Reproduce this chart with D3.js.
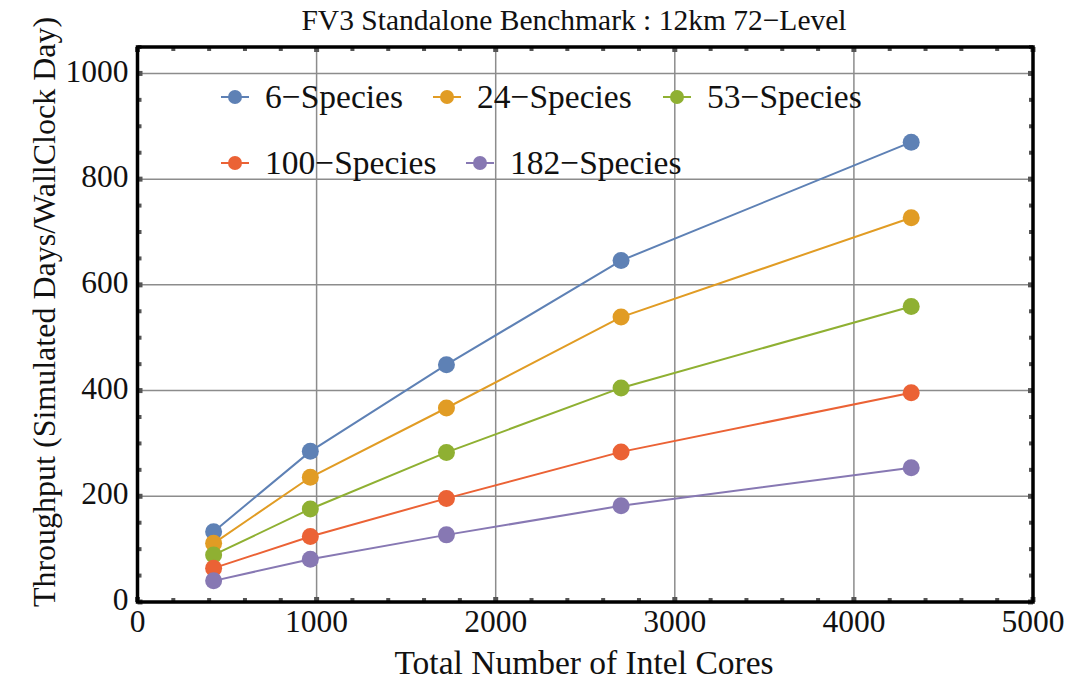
<!DOCTYPE html>
<html>
<head>
<meta charset="utf-8">
<title>FV3 Standalone Benchmark</title>
<style type="text/css">
body{ margin: 0; background: #fff; }
text{ font-family: "Liberation Serif", "Times New Roman", serif; fill: #111; }
.grid line{ stroke: #8c8c8c; stroke-width: 1.5; }
.series path{ fill: none; stroke-width: 2; }
</style>
<script src="https://cdn.jsdelivr.net/npm/d3@7"></script>
</head>
<body>
<script>
// values
var cores = [425, 965, 1725, 2700, 4320];
var seriesNames = ["6\u2212Species", "24\u2212Species", "53\u2212Species", "100\u2212Species", "182\u2212Species"];
var seriesColors = ["#5e81b5", "#e19c24", "#8fb032", "#eb6235", "#8778b3"];
var species6 = [133, 285, 449, 646, 870];
var species24 = [111, 236, 367, 539, 727];
var species53 = [89, 176, 283, 405, 559];
var species100 = [64, 124, 196, 284, 396];
var species182 = [40, 81, 127, 182, 254];
var xTicks = [0, 1000, 2000, 3000, 4000, 5000];
var yTicks = [0, 200, 400, 600, 800, 1000];

var allSeries = [species6, species24, species53, species100, species182];

const width = 1091, height = 680,
    margin = {top: 47, right: 58, bottom: 78, left: 137.5},
    contentWidth = width - margin.left - margin.right,
    contentHeight = height - margin.top - margin.bottom;

const svg = d3.select("body").append("svg").attr("width", width).attr("height", height);
const xScale = d3.scaleLinear().domain([0, 5000]).range([0, contentWidth]);
const yScale = d3.scaleLinear().domain([0, 1050]).range([contentHeight, 0]);
const content = svg.append("g").attr("transform", `translate(${margin.left}, ${margin.top})`);

// grid lines at the major ticks
const grid = content.append("g").attr("class", "grid");
grid.selectAll(".gx").data(xTicks.slice(1, -1)).enter().append("line")
    .attr("x1", d => xScale(d)).attr("x2", d => xScale(d))
    .attr("y1", 0).attr("y2", contentHeight);
grid.selectAll(".gy").data(yTicks.slice(1)).enter().append("line")
    .attr("y1", d => yScale(d)).attr("y2", d => yScale(d))
    .attr("x1", 0).attr("x2", contentWidth);

// little square ticks on the inside of all four sides
const xMinor = d3.range(0, 5001, 200), yMinor = d3.range(0, 1051, 50);
const tickG = content.append("g").attr("fill", "#555");
xMinor.forEach(function(v) {
    var major = v % 1000 == 0, s = major ? 5 : 4;
    tickG.append("rect").attr("x", xScale(v) - s / 2).attr("y", contentHeight - s).attr("width", s).attr("height", s);
    tickG.append("rect").attr("x", xScale(v) - s / 2).attr("y", 0).attr("width", s).attr("height", s);
});
yMinor.forEach(function(v) {
    var major = v % 200 == 0, s = major ? 5 : 4;
    tickG.append("rect").attr("x", 0).attr("y", yScale(v) - s / 2).attr("width", s).attr("height", s);
    tickG.append("rect").attr("x", contentWidth - s).attr("y", yScale(v) - s / 2).attr("width", s).attr("height", s);
});

// frame
content.append("rect").attr("x", 0).attr("y", 0).attr("width", contentWidth).attr("height", contentHeight)
    .attr("fill", "none").attr("stroke", "#000").attr("stroke-width", 3.5);

// tick labels
content.selectAll(".xl").data(xTicks).enter().append("text")
    .attr("x", d => xScale(d)).attr("y", contentHeight + 30)
    .attr("text-anchor", "middle").attr("font-size", 31.5).text(d => d);
content.selectAll(".yl").data(yTicks).enter().append("text")
    .attr("x", -9).attr("y", d => yScale(d)).attr("dy", "0.26em")
    .attr("text-anchor", "end").attr("font-size", 31.5).text(d => d);

// series
const lineGen = d3.line().x((d, i) => xScale(cores[i])).y(d => yScale(d));
const series = content.selectAll(".series").data(allSeries).enter().append("g").attr("class", "series");
series.append("path").attr("d", lineGen).attr("stroke", (d, i) => seriesColors[i]);
series.each(function(vals, k) {
    d3.select(this).selectAll("circle").data(vals).enter().append("circle")
        .attr("cx", (d, i) => xScale(cores[i])).attr("cy", d => yScale(d))
        .attr("r", 8.5).attr("fill", seriesColors[k]);
});

// legend
const legendPos = [[235, 97], [447, 97], [677, 97], [235, 163], [480, 163]];
const legend = svg.selectAll(".legend").data(seriesNames).enter().append("g")
    .attr("transform", (d, i) => `translate(${legendPos[i][0]}, ${legendPos[i][1]})`);
legend.append("line").attr("x1", -14).attr("x2", 14)
    .attr("stroke", (d, i) => seriesColors[i]).attr("stroke-width", 2);
legend.append("circle").attr("r", 7).attr("fill", (d, i) => seriesColors[i]);
legend.append("text").attr("x", 30).attr("dy", "0.33em").attr("font-size", 33.5).text(d => d);

// title and axis labels
svg.append("text").attr("x", 574).attr("y", 30).attr("text-anchor", "middle")
    .attr("font-size", 29.5).text("FV3 Standalone Benchmark : 12km 72\u2212Level");
svg.append("text").attr("x", 584).attr("y", 674).attr("text-anchor", "middle")
    .attr("font-size", 33.5).text("Total Number of Intel Cores");
svg.append("text").attr("transform", "translate(55, 312) rotate(-90)").attr("text-anchor", "middle")
    .attr("font-size", 32).text("Throughput (Simulated Days/WallClock Day)");
</script>
</body>
</html>
